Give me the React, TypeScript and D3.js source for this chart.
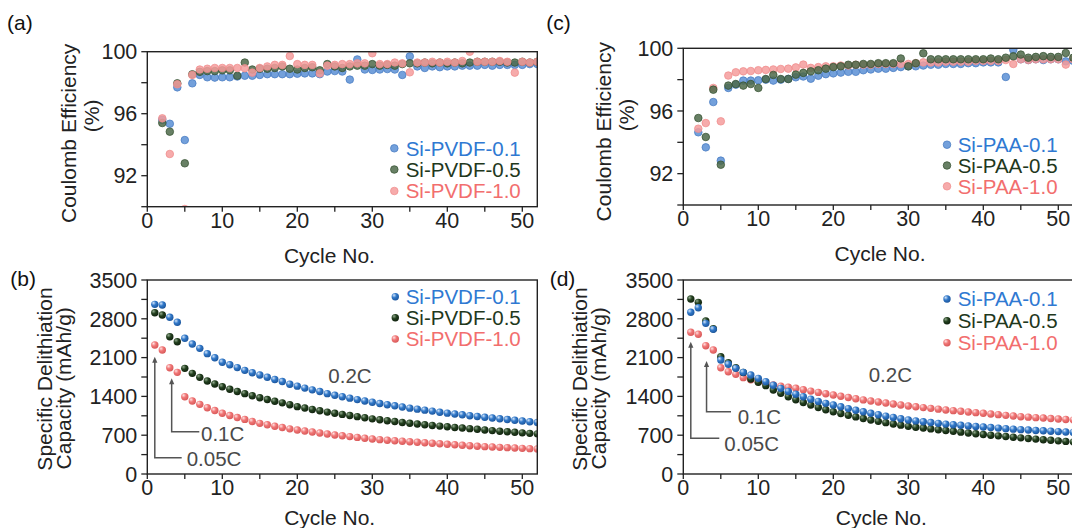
import React from "react";
import * as d3 from "d3";

// ---------------- data (cycle = index + 1) ----------------
const ceSiPVDF01 = [null, 95.6, 95.35, 97.7, 94.3, 97.96, 98.5, 98.35, 98.33, 98.35, 98.35, 98.4, 98.45, 98.45, 98.5, 98.55, 98.55, 98.55, 98.55, 98.58, 98.6, 98.6, 98.55, 98.72, 98.75, 98.72, 98.2, 99.5, 98.85, 98.82, 98.85, 98.88, 98.85, 98.5, 99.7, 99.05, 98.95, 99.05, 99.0, 99.05, 99.05, 99.1, 99.1, 99.1, 99.15, 99.1, 99.15, 99.15, 99.15, 99.15, 99.2, 99.2];
const ceSiPVDF05 = [null, 95.4, 94.84, 97.96, 92.8, 98.54, 98.7, 98.75, 98.75, 98.8, 98.8, 98.45, 99.3, 98.85, 98.9, 98.9, 98.95, 99.05, 98.9, 98.85, 98.95, 99.0, 98.8, 99.2, 99.05, 98.95, 99.05, 99.1, 99.1, 99.2, 99.1, 99.15, 99.1, 99.2, 99.25, 99.25, 99.3, 99.25, 99.3, 99.25, 99.3, 99.25, 99.3, 99.35, 99.35, 99.35, 99.35, 99.3, 99.3, 99.35, 99.3, 99.35];
const ceSiPVDF10 = [null, 95.7, 93.4, 97.9, 89.85, 98.5, 98.85, 98.9, 98.95, 98.95, 98.95, 98.95, 98.93, 98.65, 98.95, 99.05, 99.15, 99.15, 99.72, 99.2, 99.15, 99.15, 98.6, 99.1, 99.15, 99.2, 99.2, 99.25, 99.25, 99.9, 99.2, 99.2, 99.3, 99.25, 98.67, 99.3, 99.3, 99.35, 99.3, 99.35, 99.3, 99.4, 100.0, 99.35, 99.35, 99.35, 99.4, 99.35, 98.65, 99.35, 99.3, 99.35];

const ceSiPAA01 = [null, 94.64, 93.68, 96.57, 92.83, 97.47, 97.68, 97.94, 97.94, 97.96, 98.0, 97.94, 98.0, 98.05, 98.15, 98.2, 98.06, 98.25, 98.35, 98.4, 98.45, 98.5, 98.5, 98.6, 98.65, 98.7, 98.7, 98.75, 98.8, 98.85, 98.85, 98.9, 98.95, 98.95, 99.0, 99.0, 99.0, 99.05, 99.05, 99.1, 99.1, 99.1, 98.17, 99.9, 99.3, 99.25, 99.3, 99.25, 99.3, 99.3, 99.17, 99.2];
const ceSiPAA05 = [null, 95.55, 94.34, 97.36, 92.57, 97.62, 97.72, 97.62, 97.72, 97.47, 98.04, 98.3, 98.04, 98.04, 98.32, 98.43, 98.53, 98.6, 98.7, 98.8, 98.85, 98.95, 98.95, 99.0, 99.0, 99.05, 99.05, 99.05, 99.35, 98.85, 99.05, 99.68, 99.3, 99.3, 99.3, 99.3, 99.3, 99.3, 99.3, 99.3, 99.35, 99.3, 99.4, 99.49, 99.6, 99.4, 99.45, 99.5, 99.45, 99.45, 99.7, 99.4];
const ceSiPAA10 = [null, 94.87, 95.23, 97.47, 95.34, 98.26, 98.47, 98.53, 98.55, 98.6, 98.62, 98.65, 98.68, 98.7, 98.78, 98.96, 98.75, 98.8, 98.85, 98.85, 98.9, 98.9, 98.95, 98.95, 98.95, 99.0, 99.0, 99.0, 99.0, 99.0, 99.05, 99.1, 99.1, 99.1, 99.15, 99.15, 99.15, 99.15, 99.2, 99.2, 99.2, 99.2, 99.25, 99.0, 99.3, 99.25, 99.3, 99.3, 99.3, 99.3, 98.96, 99.3];

const capSiPVDF01 = [3061, 3050, 2827, 2737, 2448, 2345, 2267, 2171, 2098, 2015, 1970, 1920, 1870, 1828, 1786, 1745, 1705, 1668, 1620, 1585, 1550, 1518, 1488, 1450, 1420, 1395, 1368, 1342, 1318, 1295, 1272, 1250, 1230, 1208, 1188, 1170, 1152, 1135, 1115, 1098, 1083, 1068, 1052, 1038, 1024, 1010, 996, 983, 970, 957, 944, 930];
const capSiPVDF05 = [2910, 2868, 2477, 2387, 1906, 1816, 1744, 1678, 1625, 1575, 1530, 1488, 1450, 1412, 1375, 1343, 1312, 1284, 1250, 1215, 1190, 1165, 1140, 1117, 1095, 1075, 1055, 1035, 1015, 995, 978, 962, 946, 930, 915, 902, 889, 876, 864, 852, 840, 829, 818, 806, 795, 783, 772, 762, 752, 742, 733, 724];
const capSiPVDF10 = [2327, 2237, 1918, 1834, 1395, 1317, 1257, 1196, 1145, 1095, 1055, 1018, 985, 948, 914, 888, 862, 838, 815, 794, 775, 757, 740, 722, 704, 690, 675, 660, 645, 631, 620, 610, 600, 592, 583, 573, 564, 555, 545, 536, 527, 518, 510, 501, 493, 487, 481, 475, 469, 463, 457, 451];

const capSiPAA01 = [2917, 3000, 2718, 2610, 2057, 1979, 1906, 1834, 1786, 1726, 1666, 1600, 1545, 1490, 1440, 1395, 1350, 1310, 1275, 1245, 1212, 1180, 1150, 1122, 1095, 1070, 1045, 1020, 997, 975, 958, 942, 928, 914, 900, 889, 879, 868, 858, 848, 838, 828, 818, 809, 800, 793, 786, 779, 772, 765, 758, 752];
const capSiPAA05 = [3157, 3097, 2760, 2620, 2116, 2010, 1920, 1830, 1714, 1654, 1594, 1515, 1455, 1395, 1340, 1290, 1243, 1200, 1160, 1124, 1092, 1060, 1030, 1000, 974, 950, 926, 903, 881, 860, 844, 829, 814, 799, 785, 770, 755, 740, 726, 712, 700, 688, 676, 664, 652, 641, 630, 619, 608, 598, 588, 578];
const capSiPAA10 = [2556, 2520, 2315, 2237, 1918, 1846, 1798, 1738, 1700, 1666, 1635, 1606, 1585, 1565, 1546, 1520, 1496, 1472, 1448, 1425, 1402, 1380, 1358, 1337, 1317, 1298, 1280, 1262, 1244, 1227, 1212, 1198, 1184, 1170, 1155, 1143, 1131, 1119, 1107, 1095, 1083, 1071, 1058, 1046, 1034, 1026, 1017, 1009, 1000, 992, 984, 975];

const pvdfNames = ["Si-PVDF-0.1", "Si-PVDF-0.5", "Si-PVDF-1.0"];
const paaNames = ["Si-PAA-0.1", "Si-PAA-0.5", "Si-PAA-1.0"];

const xTickValues = [0, 5, 10, 15, 20, 25, 30, 35, 40, 45, 50];
const xTickLabels = [0, 10, 20, 30, 40, 50];
const ceTickValues = [90, 92, 94, 96, 98, 100];
const ceTickLabels = [92, 96, 100];
const capTickValues = [0, 350, 700, 1050, 1400, 1750, 2100, 2450, 2800, 3150, 3500];
const capTickLabels = [0, 700, 1400, 2100, 2800, 3500];
const rateLabels = ["0.05C", "0.1C", "0.2C"];
const xTitle = "Cycle No.";
const ceTitle = ["Coulomb Efficiency", "(%)"];
const capTitle = ["Specific Delithiation", "Capacity (mAh/g)"];

// ---------------- styles ----------------
const FONT = '"Liberation Sans", Arial, Helvetica, sans-serif';
const AX = "#222";
const textColors = ["#2f79d2", "#1f381d", "#f26e6e"];
const ceFill = ["#5b8fd5", "#4d6a4a", "#f59c9c"];
const ceStroke = ["#4378c0", "#33502f", "#ef8a8a"];
const sphere = [
  { hi: "#d4e6fb", mid: "#3279c9", lo: "#1a5399" },
  { hi: "#93ab8f", mid: "#23401f", lo: "#0f1f0d" },
  { hi: "#ffe3e3", mid: "#f07676", lo: "#d65757" },
];

type PanelProps = {
  id: string;
  left: number;
  top: number;
  bottom: number;
  kind: "ce" | "cap";
  data: (number | null)[][];
  names: string[];
  order: number[];
  legend: { mx: number; tx: number; ys: number[] };
  ytitle: { xs: number[]; ys: number[] };
  xtitle: { x: number; y: number };
  label: { text: string; x: number; y: number };
  annot?: {
    rate: { x: number; y: number };
    arrows: { c: number; tip: number; base: number; hEnd: number; tx: number; ty: number; label: string }[];
  };
};

function Panel(p: PanelProps) {
  const x = d3.scaleLinear().domain([0, 52]).range([p.left, p.left + 390]);
  const y =
    p.kind === "ce"
      ? d3.scaleLinear().domain([90, 100]).range([p.bottom, p.top])
      : d3.scaleLinear().domain([0, 3500]).range([p.bottom, p.top]);
  const yTicks = p.kind === "ce" ? ceTickValues : capTickValues;
  const yLabels = p.kind === "ce" ? ceTickLabels : capTickLabels;
  const titles = p.kind === "ce" ? ceTitle : capTitle;
  const r = p.kind === "ce" ? 3.8 : 3.7;

  const marker = (si: number, cx: number, cy: number, key: string) =>
    p.kind === "ce" ? (
      <circle key={key} cx={cx} cy={cy} r={r} fill={ceFill[si]} fillOpacity={0.85} stroke={ceStroke[si]} strokeOpacity={0.9} strokeWidth={0.8} />
    ) : (
      <circle key={key} cx={cx} cy={cy} r={r} fill={`url(#sph-${p.id}-${si})`} />
    );

  return (
    <g>
      <defs>
        <clipPath id={`clip-${p.id}`}>
          <rect x={p.left} y={p.top} width={390} height={p.bottom - p.top} />
        </clipPath>
        {sphere.map((s, i) => (
          <radialGradient key={i} id={`sph-${p.id}-${i}`} cx="0.38" cy="0.35" r="0.7" fx="0.32" fy="0.3">
            <stop offset="0" stopColor={s.hi} />
            <stop offset="0.45" stopColor={s.mid} />
            <stop offset="1" stopColor={s.lo} />
          </radialGradient>
        ))}
      </defs>

      {/* marks */}
      <g clipPath={`url(#clip-${p.id})`}>
        {p.order.map((si) =>
          p.data[si].map((v, i) => (v == null ? null : marker(si, x(i + 1), y(v), `${si}-${i}`)))
        )}
      </g>

      {/* frame */}
      <rect x={p.left} y={p.top} width={390} height={p.bottom - p.top} fill="none" stroke={AX} strokeWidth={1.4} />

      {/* x ticks */}
      {xTickValues.map((t) => (
        <line key={t} x1={x(t)} x2={x(t)} y1={p.bottom} y2={p.bottom + 5} stroke={AX} strokeWidth={1.3} />
      ))}
      {xTickLabels.map((t) => (
        <text key={t} x={x(t)} y={p.bottom + 21} textAnchor="middle" fontSize={21.5} fill={AX} fontFamily={FONT}>
          {t}
        </text>
      ))}
      {/* y ticks */}
      {yTicks.map((t) => (
        <line key={t} x1={p.left - 6} x2={p.left} y1={y(t)} y2={y(t)} stroke={AX} strokeWidth={1.3} />
      ))}
      {yLabels.map((t) => (
        <text key={t} x={p.left - 10} y={y(t)} dy="0.36em" textAnchor="end" fontSize={21.5} fill={AX} fontFamily={FONT}>
          {t}
        </text>
      ))}

      {/* titles */}
      <text x={p.xtitle.x} y={p.xtitle.y} textAnchor="middle" fontSize={21} fill={AX} fontFamily={FONT}>
        {xTitle}
      </text>
      {titles.map((t, i) => (
        <text
          key={t}
          transform={`translate(${p.ytitle.xs[i]},${p.ytitle.ys[i]}) rotate(-90)`}
          textAnchor="middle"
          fontSize={21}
          fill={AX}
          fontFamily={FONT}
        >
          {t}
        </text>
      ))}
      <text x={p.label.x} y={p.label.y} fontSize={21} fill="#111" fontFamily={FONT}>
        {p.label.text}
      </text>

      {/* legend */}
      {p.names.map((n, i) => (
        <g key={n}>
          {marker(i, p.legend.mx, p.legend.ys[i], `leg-${i}`)}
          <text x={p.legend.tx} y={p.legend.ys[i]} dy="0.36em" fontSize={20.5} fill={textColors[i]} fontFamily={FONT}>
            {n}
          </text>
        </g>
      ))}

      {/* annotations */}
      {p.annot && (
        <g>
          <text x={p.annot.rate.x} y={p.annot.rate.y} fontSize={20.5} fill="#4a4a4a" fontFamily={FONT}>
            {rateLabels[2]}
          </text>
          {p.annot.arrows.map((a) => {
            const ax = x(a.c);
            return (
              <g key={a.label}>
                <polyline points={`${ax},${a.tip + 4} ${ax},${a.base} ${a.hEnd},${a.base}`} fill="none" stroke="#555" strokeWidth={1.5} />
                <polygon points={`${ax},${a.tip} ${ax - 2.6},${a.tip + 6} ${ax + 2.6},${a.tip + 6}`} fill="#555" />
                <text x={a.tx} y={a.ty} dy="0.36em" fontSize={20.5} fill="#4a4a4a" fontFamily={FONT}>
                  {a.label}
                </text>
              </g>
            );
          })}
        </g>
      )}
    </g>
  );
}

export default function App() {
  return (
    <svg
      width={1072}
      height={528}
      viewBox="0 0 1072 528"
      style={{ position: "absolute", left: 0, top: 0, background: "#fff" }}
    >
      <rect x={0} y={0} width={1072} height={528} fill="#fff" />
      <Panel
        id="a"
        left={147.3}
        top={51.7}
        bottom={206.7}
        kind="ce"
        data={[ceSiPVDF01, ceSiPVDF05, ceSiPVDF10]}
        names={pvdfNames}
        order={[0, 1, 2]}
        legend={{ mx: 394.3, tx: 405.7, ys: [148.3, 169.5, 191] }}
        ytitle={{ xs: [75.5, 99], ys: [133.3, 115.8] }}
        xtitle={{ x: 329.4, y: 263.3 }}
        label={{ text: "(a)", x: 7, y: 29.5 }}
      />
      <Panel
        id="b"
        left={147.3}
        top={280}
        bottom={474}
        kind="cap"
        data={[capSiPVDF01, capSiPVDF05, capSiPVDF10]}
        names={pvdfNames}
        order={[2, 1, 0]}
        legend={{ mx: 395.3, tx: 405.7, ys: [296.7, 317.7, 339] }}
        ytitle={{ xs: [51.5, 70.5], ys: [379, 388.3] }}
        xtitle={{ x: 329.7, y: 525 }}
        label={{ text: "(b)", x: 10.3, y: 285.6 }}
        annot={{
          rate: { x: 328.3, y: 382.5 },
          arrows: [
            { c: 1, tip: 356.7, base: 457.7, hEnd: 181.7, tx: 186.7, ty: 459, label: rateLabels[0] },
            { c: 3.25, tip: 378.3, base: 431.7, hEnd: 199.3, tx: 201, ty: 434, label: rateLabels[1] },
          ],
        }}
      />
      <Panel
        id="c"
        left={683.3}
        top={48.3}
        bottom={205}
        kind="ce"
        data={[ceSiPAA01, ceSiPAA05, ceSiPAA10]}
        names={paaNames}
        order={[0, 2, 1]}
        legend={{ mx: 947, tx: 957.7, ys: [144.7, 165.5, 186.3] }}
        ytitle={{ xs: [611, 634], ys: [131.7, 115] }}
        xtitle={{ x: 880, y: 261 }}
        label={{ text: "(c)", x: 546.3, y: 29.5 }}
      />
      <Panel
        id="d"
        left={683.3}
        top={280}
        bottom={474}
        kind="cap"
        data={[capSiPAA01, capSiPAA05, capSiPAA10]}
        names={paaNames}
        order={[2, 1, 0]}
        legend={{ mx: 947, tx: 957.7, ys: [299, 320.7, 342.7] }}
        ytitle={{ xs: [587, 606], ys: [379, 388.3] }}
        xtitle={{ x: 881.3, y: 525 }}
        label={{ text: "(d)", x: 549.7, y: 285.6 }}
        annot={{
          rate: { x: 868.7, y: 381.5 },
          arrows: [
            { c: 1, tip: 341.7, base: 438.3, hEnd: 719.3, tx: 724.3, ty: 443.3, label: rateLabels[0] },
            { c: 3.1, tip: 361, base: 411.7, hEnd: 731, tx: 737.7, ty: 416.7, label: rateLabels[1] },
          ],
        }}
      />
    </svg>
  );
}
